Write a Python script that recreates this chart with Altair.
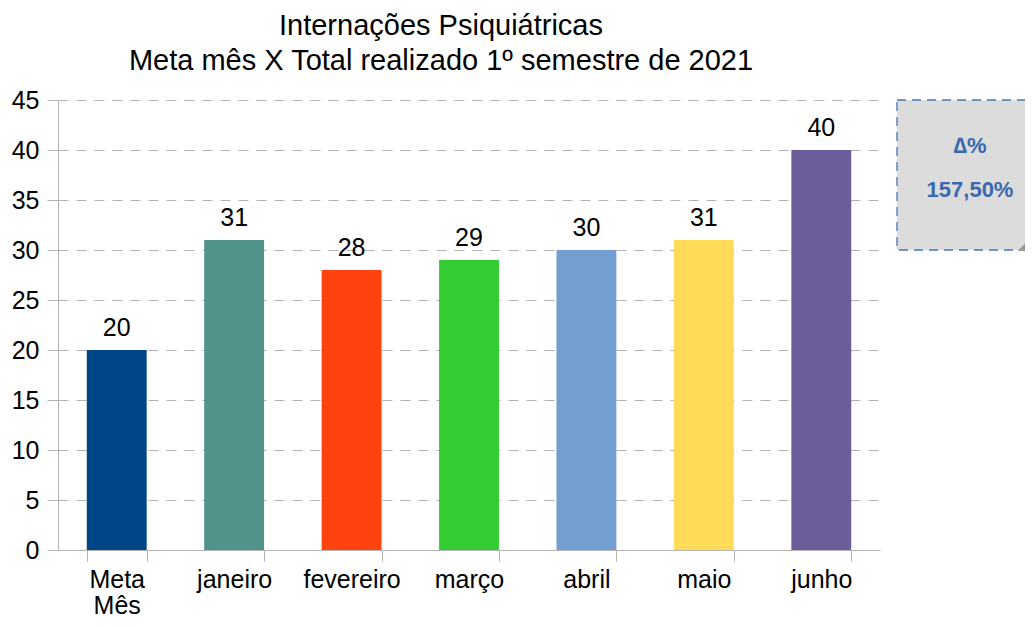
import altair as alt
import pandas as pd

categories = ["Meta Mês", "janeiro", "fevereiro", "março", "abril", "maio", "junho"]
values = [20, 31, 28, 29, 30, 31, 40]
colors = ["#004586", "#51938a", "#ff420e", "#33cc33", "#729fcf", "#ffdb58", "#6c5d9a"]
note_lines = ["∆%", "157,50%"]
title_lines = ["Internações Psiquiátricas", "Meta mês X Total realizado 1º semestre de 2021"]

df = pd.DataFrame({"cat": categories, "val": values, "color": colors})
FONT = "Liberation Sans"

x = alt.X("cat:N", sort=categories, title=None,
          scale=alt.Scale(paddingInner=0.49, paddingOuter=0.245),
          axis=alt.Axis(labelAngle=0, labelFontSize=25, labelColor="black", labelFont=FONT,
                        tickBand="extent", tickSize=11, tickColor="#b3b3b3",
                        domainColor="#b3b3b3", labelPadding=6, labelLineHeight=26,
                        labelExpr="split(datum.label, ' ')"))
y = alt.Y("val:Q", title=None,
          scale=alt.Scale(domain=[0, 45], nice=False),
          axis=alt.Axis(values=list(range(0, 50, 5)), labelFontSize=25, labelColor="black",
                        labelFont=FONT, tickSize=11, tickColor="#b3b3b3", domainColor="#b3b3b3",
                        gridColor="#b3b3b3", gridDash=[10, 8], labelPadding=8))

base = alt.Chart(df)
bars = base.mark_bar().encode(x=x, y=y, color=alt.Color("color:N", scale=None))
labels = base.mark_text(dy=-9, baseline="bottom", fontSize=25, font=FONT, color="black").encode(
    x=alt.X("cat:N", sort=categories), y="val:Q", text="val:Q")

note_df = pd.DataFrame({"t": [note_lines[0]], "t2": [note_lines[1]]})
note_box = alt.Chart(note_df).mark_rect(
    fill="#dcdcdc", stroke="#4a74b4", strokeWidth=1.3, strokeDash=[9, 6]
).encode(x=alt.value(839), x2=alt.value(972), y=alt.value(0), y2=alt.value(150))
fold = alt.Chart(note_df).mark_point(
    shape="M1,-1L1,1L-1,1Z", filled=True, fill="#9a9a9a", stroke="#9a9a9a",
    size=100, opacity=1, fillOpacity=1
).encode(x=alt.value(967), y=alt.value(145))
note1 = alt.Chart(note_df).mark_text(fontSize=22, fontWeight="bold", color="#3a6aad", font=FONT).encode(
    x=alt.value(912), y=alt.value(46), text="t:N")
note2 = alt.Chart(note_df).mark_text(fontSize=22, fontWeight="bold", color="#3a6aad", font=FONT).encode(
    x=alt.value(912), y=alt.value(90), text="t2:N")

chart = alt.layer(bars, labels, note_box, fold, note1, note2).properties(
    width=822, height=450,
    autosize=alt.AutoSizeParams(type="none"),
    padding={"left": 50, "top": 92, "right": 145, "bottom": 68},
    title=alt.TitleParams(title_lines, fontSize=29, font=FONT, fontWeight="normal", color="black",
                          anchor="middle", frame="group", dx=-28, offset=12, lineHeight=35),
).configure_view(stroke=None).configure_axis(grid=True).configure_axisX(grid=False)

chart.save("out.html", embed_options={"renderer": "svg", "actions": False})
